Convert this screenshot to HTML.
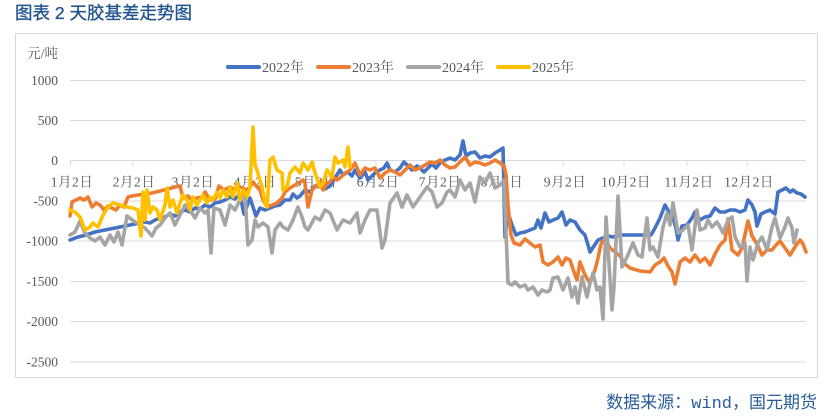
<!DOCTYPE html>
<html><head><meta charset="utf-8"><style>
html,body{margin:0;padding:0;background:#fff;width:830px;height:420px;overflow:hidden}
svg{display:block}
.ax{font-family:"Liberation Serif","Noto Serif CJK SC",serif;font-size:13.5px;fill:#595959}
.mx{font-family:"Liberation Serif","Noto Serif CJK SC",serif;font-size:13.5px;fill:#595959;letter-spacing:0.5px}
.lg{font-family:"Liberation Serif","Noto Serif CJK SC",serif;font-size:14px;fill:#595959}
.ser{fill:none;stroke-width:3.6;stroke-linejoin:round;stroke-linecap:round}
</style></head><body>
<svg width="830" height="420" viewBox="0 0 830 420" xmlns="http://www.w3.org/2000/svg">
<rect x="0" y="0" width="830" height="420" fill="#fff"/>
<text x="15" y="19" font-family="'Liberation Sans','Noto Sans CJK SC',sans-serif" font-size="17.5" fill="#24558F" stroke="#24558F" stroke-width="0.35">图表 2 天胶基差走势图</text>
<rect x="15.5" y="33.5" width="802" height="344" fill="#fff" stroke="#D9D9D9" stroke-width="1"/>
<!-- gridlines -->
<g stroke="#D9D9D9" stroke-width="1">
<line x1="70" y1="80.5" x2="806" y2="80.5"/>
<line x1="70" y1="120.5" x2="806" y2="120.5"/>
<line x1="70" y1="160.5" x2="806" y2="160.5"/>
<line x1="70" y1="201" x2="806" y2="201"/>
<line x1="70" y1="241" x2="806" y2="241"/>
<line x1="70" y1="281.5" x2="806" y2="281.5"/>
<line x1="70" y1="321.5" x2="806" y2="321.5"/>
<line x1="70" y1="362" x2="806" y2="362"/>
<line x1="70.5" y1="160.5" x2="70.5" y2="165.5"/>
<line x1="133" y1="160.5" x2="133" y2="165.5"/>
<line x1="191" y1="160.5" x2="191" y2="165.5"/>
<line x1="253" y1="160.5" x2="253" y2="165.5"/>
<line x1="314" y1="160.5" x2="314" y2="165.5"/>
<line x1="376" y1="160.5" x2="376" y2="165.5"/>
<line x1="438" y1="160.5" x2="438" y2="165.5"/>
<line x1="500" y1="160.5" x2="500" y2="165.5"/>
<line x1="563" y1="160.5" x2="563" y2="165.5"/>
<line x1="624" y1="160.5" x2="624" y2="165.5"/>
<line x1="687" y1="160.5" x2="687" y2="165.5"/>
<line x1="747" y1="160.5" x2="747" y2="165.5"/>
</g>
<!-- y labels -->
<g class="ax" text-anchor="end">
<text x="58" y="58">元/吨</text>
<text x="58" y="85">1000</text>
<text x="58" y="125">500</text>
<text x="58" y="165">0</text>
<text x="58" y="205.5">-500</text>
<text x="58" y="245.5">-1000</text>
<text x="58" y="286">-1500</text>
<text x="58" y="326">-2000</text>
<text x="58" y="366.5">-2500</text>
</g>
<!-- x labels -->
<g class="mx" text-anchor="middle">
<text x="72" y="186.5">1月2日</text>
<text x="134" y="186.5">2月2日</text>
<text x="193" y="186.5">3月2日</text>
<text x="255" y="186.5">4月2日</text>
<text x="316" y="186.5">5月2日</text>
<text x="378" y="186.5">6月2日</text>
<text x="440" y="186.5">7月2日</text>
<text x="502" y="186.5">8月2日</text>
<text x="565" y="186.5">9月2日</text>
<text x="626" y="186.5">10月2日</text>
<text x="689" y="186.5">11月2日</text>
<text x="749" y="186.5">12月2日</text>
</g>
<!-- legend -->
<g stroke-width="4" stroke-linecap="round">
<line x1="228" y1="67" x2="259" y2="67" stroke="#4472C4"/>
<line x1="318" y1="67" x2="349" y2="67" stroke="#ED7D31"/>
<line x1="408" y1="67" x2="439" y2="67" stroke="#A5A5A5"/>
<line x1="498" y1="67" x2="529" y2="67" stroke="#FFC000"/>
</g>
<g class="lg">
<text x="262" y="72">2022年</text>
<text x="352" y="72">2023年</text>
<text x="442" y="72">2024年</text>
<text x="532" y="72">2025年</text>
</g>
<!-- series -->
<polyline class="ser" stroke="#4472C4" points="70,240 78,237 86,235 95,232 105,230 115,228 125,226 135,224 145,222 150,223 155,220 160,218 165,217 170,214 175,216 180,212 185,210 190,212 195,208 200,209 205,205 210,207 215,203 220,202 225,200 230,197 235,199 238,196 241,200 244,214 247,206 250,198 253,207 256,216 260,208 265,210 270,208 275,206 280,205 285,200 290,200 293,194 297,198 300,196 305,190 310,192 315,186 320,187 325,189 330,186 335,178 340,170 343,175 348,172 352,176 355,170 360,178 365,172 368,180 372,176 376,172 380,170 384,168 387,163 390,170 395,172 400,168 404,162 407,165 412,170 417,166 420,168 424,172 428,168 432,164 436,168 440,163 445,160 450,158 455,160 460,155 463,141 466,156 470,153 475,152 480,158 485,156 490,157 495,153 500,150 503,148 505,237 508,213 512,225 516,235 520,233 525,232 530,230 535,228 538,220 541,228 545,213 549,222 553,220 558,218 562,212 566,225 570,220 575,222 580,230 585,235 588,245 590,252 594,246 598,240 603,238 608,236 613,237 620,235 630,235 640,235 651,235 655,228 660,218 665,205 669,212 673,218 676,228 678,240 682,226 687,225 692,218 695,212 700,220 705,217 710,216 715,208 720,212 725,212 730,210 735,210 740,212 745,210 748,200 752,205 755,212 757,226 761,214 765,212 770,210 775,214 778,192 782,190 786,188 790,192 793,190 797,193 801,194 805,197"/>
<polyline class="ser" stroke="#ED7D31" points="70,216 72,202 76,200 80,198 84,200 88,197 92,207 96,203 100,205 104,210 108,206 112,208 116,210 120,205 124,207 128,197 132,196 138,195 145,194 152,193 160,191 168,189 175,187 180,186 183,198 188,196 192,200 197,198 202,197 205,192 210,200 215,199 219,186 224,190 230,187 235,190 240,187 247,190 250,187 253,182 257,187 260,190 263,200 267,207 272,205 277,203 282,198 285,192 290,188 295,185 300,182 303,180 305,183 308,207 312,190 317,185 320,182 323,190 327,183 330,182 333,177 337,180 340,178 345,173 350,170 355,163 360,175 365,168 370,170 375,168 380,178 385,173 390,170 395,172 400,175 405,170 410,165 415,170 420,168 425,165 430,162 435,163 440,160 445,165 450,168 455,167 460,162 465,157 470,165 475,162 480,163 485,165 490,163 495,160 500,163 504,166 506,175 508,205 511,235 514,243 520,245 525,239 530,243 535,247 540,245 543,262 548,265 553,262 558,257 562,265 566,258 570,260 574,272 577,280 580,262 585,275 590,283 595,270 598,258 601,244 605,238 610,248 615,252 620,256 625,264 630,268 640,271 650,272 655,265 660,262 664,258 668,266 672,272 675,284 680,262 685,258 690,262 695,255 700,262 705,258 710,265 715,254 720,245 725,240 728,219 732,250 738,255 742,248 748,221 752,236 757,244 762,255 767,250 772,250 776,245 780,241 785,248 790,255 795,247 800,240 803,244 806,252"/>
<polyline class="ser" stroke="#A5A5A5" points="70,235 75,232 80,221 85,233 90,238 95,241 100,237 105,245 110,235 114,242 118,232 122,245 127,216 135,222 145,228 152,236 156,228 160,225 165,218 170,213 175,225 180,215 185,205 190,210 195,218 200,208 205,213 208,210 211,253 214,208 220,210 225,225 230,205 235,210 240,200 245,195 248,245 252,240 255,220 258,227 263,223 268,227 272,253 275,230 280,223 283,227 288,230 293,220 298,207 302,217 305,227 308,230 315,217 320,220 325,210 330,213 337,230 343,220 350,223 357,213 360,233 365,220 370,210 377,210 382,248 385,240 390,203 397,193 402,207 407,195 413,207 420,197 427,187 432,192 437,207 442,203 447,192 450,190 455,197 460,180 465,190 470,183 475,202 480,177 485,183 490,173 495,188 500,185 504,180 508,283 512,285 515,282 520,287 525,285 528,290 533,287 538,295 542,290 547,292 550,290 553,278 558,277 563,290 568,278 572,297 575,287 578,303 582,277 587,297 590,283 593,273 597,290 600,287 603,319 606,217 609,263 612,310 614,287 618,196 622,267 627,257 633,243 638,255 642,257 647,218 650,250 653,247 658,257 663,227 667,213 670,225 673,203 678,233 683,230 688,225 692,250 697,210 700,230 705,228 708,220 712,227 717,222 720,227 723,233 728,220 732,217 735,237 740,247 745,243 747,281 750,247 753,260 758,243 762,237 767,250 772,227 775,218 780,238 785,227 788,218 792,228 794,243 797,230"/>
<polyline class="ser" stroke="#FFC000" points="70,210 75,212 80,217 85,230 90,227 93,223 98,227 103,215 108,207 113,203 120,205 127,207 133,208 138,210 141,236 143,192 145,220 147,190 150,213 153,207 157,210 160,220 165,205 167,188 170,207 173,200 177,213 180,203 183,195 187,200 190,210 193,197 197,205 200,200 203,195 207,203 210,197 213,200 217,192 220,198 223,190 227,197 230,187 233,197 237,183 240,200 243,190 247,197 250,187 253,127 255,165 257,170 260,180 262,187 265,203 267,207 270,160 273,157 277,170 282,173 283,190 287,187 290,173 295,167 300,173 303,163 308,170 312,162 315,173 320,187 323,183 327,170 332,177 335,157 338,163 343,160 345,167 348,147 350,167"/>
<!-- footer -->
<text x="817" y="408" text-anchor="end" font-size="17" fill="#2A5C99"><tspan font-family="'Noto Sans CJK SC',sans-serif">数据来源：</tspan><tspan font-family="'Liberation Mono',monospace">wind</tspan><tspan font-family="'Noto Sans CJK SC',sans-serif">，国元期货</tspan></text>
</svg>
</body></html>
